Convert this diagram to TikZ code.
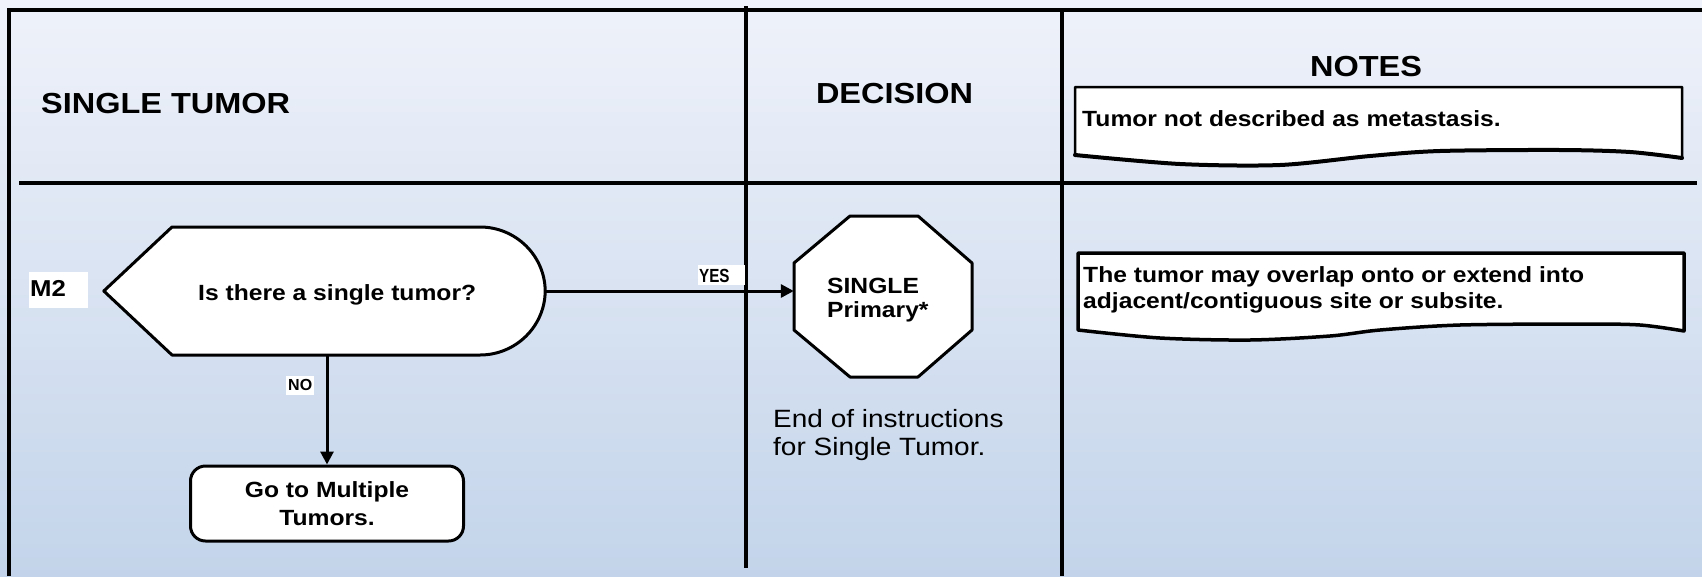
\documentclass[tikz,border=0pt]{standalone}
\usepackage{fontspec}
\setmainfont{Liberation Sans}[FakeStretch=1.12]
\newfontfamily\tightfont{Liberation Sans}[FakeStretch=0.8]
\newfontfamily\plainfont{Liberation Sans}
\usetikzlibrary{arrows.meta}
\definecolor{bgtop}{RGB}{239,242,250}
\definecolor{bgbottom}{RGB}{195,212,234}

\begin{document}
\begin{tikzpicture}[x=1pt,y=-1pt,
  frame/.style={line width=4pt, line join=miter},
  divider/.style={line width=3.5pt},
  shapeline/.style={draw=black, fill=white, line width=3pt, line join=round},
  flow/.style={line width=3pt, -{Triangle[length=13pt,width=13pt]}},
  hdr/.style={font=\bfseries\fontsize{29}{34}\selectfont, inner sep=0pt},
  body/.style={font=\bfseries\fontsize{22}{26}\selectfont, inner sep=0pt},
  remark/.style={font=\fontsize{25}{28}\selectfont, inner sep=0pt},
  tag/.style={fill=white, inner sep=0pt},
  holder/.style={draw=none, inner sep=0pt},
]
\useasboundingbox (0,0) rectangle (1702,576);

% background
\shade[top color=bgtop, bottom color=bgbottom] (0,0) rectangle (1702,576);

% table frame and dividers
\draw[frame] (9,576) -- (9,10) -- (1702,10);
\draw[divider] (19,183) -- (1697,183);
\draw[divider] (746,6) -- (746,568);
\draw[divider] (1062,10) -- (1062,576);

% column headings
\node[hdr, anchor=base west] (h-single) at (41,113) {SINGLE TUMOR};
\node[hdr, anchor=base] (h-decision) at (894.5,103) {DECISION};
\node[hdr, anchor=base] (h-notes) at (1366,76) {NOTES};

% first note
\path[shapeline, line width=2.5pt] (1075,155) -- (1075,87) -- (1682,87) -- (1682,158)
  -- plot[smooth, tension=0.5] coordinates {(1682,158) (1630,152) (1560,150) (1440,151)
     (1370,156) (1280,165) (1180,164) (1075,155)} -- cycle;
\draw[line width=4pt, line cap=round] plot[smooth, tension=0.5] coordinates {(1682,158)
     (1630,152) (1560,150) (1440,151) (1370,156) (1280,165) (1180,164) (1075,155)};
\node[body, anchor=base west] (note1) at (1082,126) {Tumor not described as metastasis.};

% second note
\path[shapeline, line width=3.5pt] (1078,330) -- (1078,253) -- (1684,253) -- (1684,331)
  -- plot[smooth, tension=0.5] coordinates {(1684,331) (1640,325) (1580,324) (1460,325)
     (1380,330) (1330,336) (1250,340) (1160,338) (1078,330)} -- cycle;
\node[body, anchor=base west] (note2a) at (1083,282) {The tumor may overlap onto or extend into};
\node[body, anchor=base west] (note2b) at (1083,308) {adjacent/contiguous site or subsite.};

% rule label
\node[tag, minimum width=59pt, minimum height=36pt] (m2-box) at (58.5,290) {};
\node[font=\bfseries\fontsize{23}{26}\selectfont, inner sep=0pt, anchor=base west] (m2) at (30,296) {M2};

% question
\node[holder, minimum width=441pt, minimum height=128pt] (q) at (324.5,291) {};
\draw[shapeline] (q.west) -- (172,227) -- (480,227)
  .. controls (516,227) and (545,256) .. (q.east)
  .. controls (545,326) and (516,355) .. (480,355) -- (172,355) -- cycle;
\node[body, anchor=base west] (q-text) at (198,300) {Is there a single tumor?};

% terminal decision
\node[holder, minimum width=178pt, minimum height=161pt] (oct) at (883,296.5) {};
\draw[shapeline] (850,216) -- (918,216) -- (972,263) -- (972,330) -- (918,377)
  -- (850,377) -- (794,330) -- (794,263) -- cycle;
\node[body, anchor=base west] (oct-l1) at (827,293) {SINGLE};
\node[body, anchor=base west] (oct-l2) at (827,317) {Primary*};

\node[remark, anchor=base west] (end-l1) at (773,427) {End of instructions};
\node[remark, anchor=base west] (end-l2) at (773,455) {for Single Tumor.};

% next step
\node[shapeline, rounded corners=15pt, minimum width=273pt, minimum height=75pt,
      inner sep=0pt, align=center, font=\bfseries\fontsize{22}{28}\selectfont]
      (go) at (327,503.5) {Go to Multiple\\Tumors.};

% connectors
\draw[flow] (q.east) -- (q.east -| oct.west);
\draw[flow] (q.south -| go.north) -- (go.north);

% branch labels
\node[tag, minimum width=47pt, minimum height=20pt] (yes-box) at (721,274.5) {};
\node[font=\tightfont\bfseries\fontsize{19}{20}\selectfont, inner sep=0pt, anchor=base west] (yes) at (699,282) {YES};
\node[tag, minimum width=28pt, minimum height=19pt] (no-box) at (300,385.5) {};
\node[font=\plainfont\bfseries\fontsize{16}{18}\selectfont, inner sep=0pt, anchor=base west] (no) at (288,390) {NO};
\end{tikzpicture}
\end{document}
